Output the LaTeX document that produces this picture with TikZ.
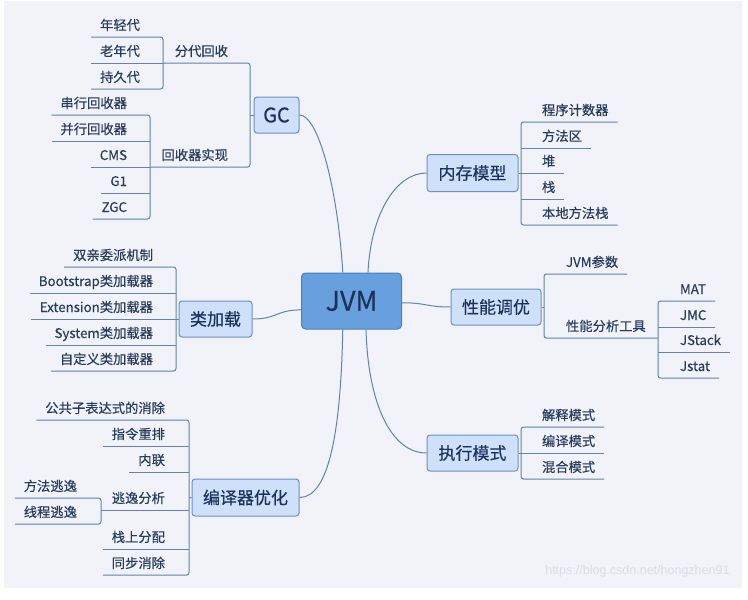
\documentclass[tikz,border=0pt]{standalone}
\usepackage{fontspec}
\setmainfont{Noto Sans CJK SC}[FakeBold=0.35]
\newfontfamily\wmfont{Liberation Sans}

\definecolor{bgcol}{RGB}{241,243,248}
\definecolor{linecol}{RGB}{98,130,175}
\definecolor{topicfill}{RGB}{207,224,250}
\definecolor{topicdraw}{RGB}{108,144,196}
\definecolor{rootfill}{RGB}{104,160,222}
\definecolor{rootdraw}{RGB}{78,126,188}
\definecolor{topictext}{RGB}{26,50,92}
\definecolor{leaftext}{RGB}{40,60,94}
\definecolor{wmcol}{RGB}{218,221,227}

\tikzset{
  root/.style={draw=rootdraw, fill=rootfill, line width=1pt, rounded corners=4pt,
    minimum width=100pt, minimum height=56pt, text=topictext, font=\fontsize{27}{30}\selectfont},
  topic/.style={draw=topicdraw, fill=topicfill, line width=1pt, rounded corners=3pt,
    minimum height=36pt, inner sep=0pt, text=topictext, font=\fontsize{17}{20}\selectfont},
  leaf/.style={inner xsep=9pt, inner ysep=4pt, outer sep=0pt, text height=10pt, text depth=3pt,
    text=leaftext, font=\fontsize{13.3}{16}\selectfont},
  leafL/.style={leaf, anchor=south east},
  leafR/.style={leaf, anchor=south west},
  link/.style={draw=linecol, line width=1pt},
  brace/.style={link, rounded corners=2.5pt},
}

\begin{document}
\begin{tikzpicture}[x=1pt, y=-1pt]
\useasboundingbox (0,0) rectangle (748,600);
\fill[bgcol] (4,1) rectangle (742,588);

% Root and main topics
\node[root] (jvm) at (351.5,301) {JVM};
\node[topic, minimum width=45pt, font=\fontsize{20}{22}\selectfont] (gc) at (276.5,115) {GC};
\node[topic, minimum width=91pt, minimum height=37pt] (nc) at (472.5,173) {内存模型};
\node[topic, minimum width=90pt] (xn) at (496,307) {性能调优};
\node[topic, minimum width=91pt] (zx) at (472.5,453) {执行模式};
\node[topic, minimum width=73pt] (jz) at (215.5,319) {类加载};
\node[topic, minimum width=107pt, minimum height=37pt] (by) at (245.5,497.5) {编译器优化};

% Curves from the root
\draw[link] (jvm.107) .. controls +(-5,-83) and +(19,0) .. (gc.east);
\draw[link] (jvm.60) .. controls +(3,-60) and +(-30,0) .. (nc.west);
\draw[link] (jvm.358) .. controls +(25,0) and +(-25,0) .. (xn.west);
\draw[link] (jvm.297) .. controls +(2,75) and +(-35,0) .. (zx.west);
\draw[link] (jvm.190) .. controls +(-25,0) and +(25,0) .. (jz.east);
\draw[link] (jvm.253) .. controls +(-2,100) and +(30,0) .. (by.east);

% GC
\coordinate (gcB) at (250,115);
\coordinate (fdB) at (163,63);
\coordinate (hqB) at (150,167);
\draw[link] (gc.west) -- (gcB);
\node[leafL] (fd) at (237,63) {分代回收};
\node[leafL] (hq) at (237,167) {回收器实现};
\draw[brace] (fd.south -| fdB) -- (fd.south -| gcB) -- (hq.south -| gcB) -- (hq.south -| hqB);
\foreach \n/\y/\t in {nq/37/年轻代, ln/63/老年代, cj/89/持久代}
  \node[leafL] (\n) at (149,\y) {\t};
\draw[brace] (nq.south west) -- (nq.south -| fdB) -- (cj.south -| fdB) -- (cj.south west);
\draw[link] (ln.south west) -- (ln.south -| fdB);
\foreach \n/\y/\t in {cx/115/串行回收器, bx/141/并行回收器, cms/167/CMS, g1/193/G1, zgc/219/ZGC}
  \node[leafL] (\n) at (136,\y) {\t};
\draw[brace] (cx.south west) -- (cx.south -| hqB) -- (zgc.south -| hqB) -- (zgc.south west);
\foreach \n in {bx,cms,g1} \draw[link] (\n.south west) -- (\n.south -| hqB);

% 内存模型
\coordinate (ncB) at (521,173);
\draw[link] (nc.east) -- (ncB);
\foreach \n/\y/\t in {nc1/122/程序计数器, nc2/148/方法区, nc3/173/堆, nc4/199/栈, nc5/225/本地方法栈}
  \node[leafR] (\n) at (533,\y) {\t};
\draw[brace] (nc1.south east) -- (nc1.south -| ncB) -- (nc5.south -| ncB) -- (nc5.south east);
\foreach \n in {nc2,nc3,nc4} \draw[link] (\n.south -| ncB) -- (\n.south east);

% 性能调优
\coordinate (xnB) at (544,307);
\coordinate (fxB) at (658,338);
\draw[link] (xn.east) -- (xnB);
\node[leafR] (cs) at (557,274) {JVM参数};
\node[leafR] (fx) at (557,338) {性能分析工具};
\draw[brace] (cs.south east) -- (cs.south -| xnB) -- (fx.south -| xnB) -- (fx.south -| fxB);
\foreach \n/\y/\t in {mat/301/MAT, jmc/327/JMC, jstack/352/JStack, jstat/378/Jstat}
  \node[leafR] (\n) at (671,\y) {\t};
\draw[brace] (mat.south east) -- (mat.south -| fxB) -- (jstat.south -| fxB) -- (jstat.south east);
\foreach \n in {jmc,jstack} \draw[link] (\n.south -| fxB) -- (\n.south east);

% 执行模式
\coordinate (zxB) at (521,453);
\draw[link] (zx.east) -- (zxB);
\foreach \n/\y/\t in {js/427/解释模式, by2/453/编译模式, hh/479/混合模式}
  \node[leafR] (\n) at (533,\y) {\t};
\draw[brace] (js.south east) -- (js.south -| zxB) -- (hh.south -| zxB) -- (hh.south east);
\draw[link] (by2.south -| zxB) -- (by2.south east);

% 类加载
\coordinate (jzB) at (176,319);
\draw[link] (jz.west) -- (jzB);
\foreach \n/\y/\t in {sq/267/双亲委派机制, bs/293/Bootstrap类加载器, ext/319/Extension类加载器, sys/345/System类加载器, zdy/371/自定义类加载器}
  \node[leafL] (\n) at (162,\y) {\t};
\draw[brace] (sq.south west) -- (sq.south -| jzB) -- (zdy.south -| jzB) -- (zdy.south west);
\foreach \n in {bs,ext,sys} \draw[link] (\n.south west) -- (\n.south -| jzB);

% 编译器优化
\coordinate (byB) at (189,498);
\coordinate (tyB) at (101,510);
\draw[link] (by.west) -- (byB);
\foreach \n/\y/\t in {gg/420/公共子表达式的消除, zl/446/指令重排, nl/472/内联, ty/510/逃逸分析, zs/549/栈上分配, tb/575/同步消除}
  \node[leafL] (\n) at (174,\y) {\t};
\draw[brace] (gg.south west) -- (gg.south -| byB) -- (tb.south -| byB) -- (tb.south west);
\foreach \n in {zl,nl,zs} \draw[link] (\n.south west) -- (\n.south -| byB);
\draw[link] (ty.south -| tyB) -- (ty.south -| byB);
\node[leafL] (ff) at (86,498) {方法逃逸};
\node[leafL] (xc) at (86,524) {线程逃逸};
\draw[brace] (ff.south west) -- (ff.south -| tyB) -- (xc.south -| tyB) -- (xc.south west);

% Watermark
\node[font=\wmfont\fontsize{12.5}{14}\selectfont, text=wmcol, anchor=east] (wm) at (733,571) {https://blog.csdn.net/hongzhen91};
\end{tikzpicture}
\end{document}
